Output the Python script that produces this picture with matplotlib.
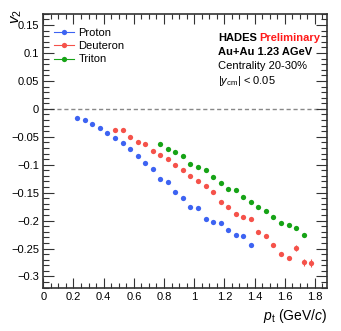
import matplotlib
matplotlib.use("Agg")
import matplotlib.pyplot as plt
from matplotlib.ticker import MultipleLocator
import numpy as np

# v2 vs pt, HADES Au+Au 1.23 AGeV, centrality 20-30%
pt_proton = np.arange(0.225, 1.376, 0.05)
v2_proton = [-0.016, -0.020, -0.027, -0.034, -0.043, -0.052, -0.061, -0.072,
             -0.084, -0.096, -0.108, -0.125, -0.131, -0.148, -0.160, -0.175,
             -0.178, -0.198, -0.202, -0.205, -0.216, -0.225, -0.228, -0.243]

pt_deuteron = np.arange(0.475, 1.776, 0.05)
v2_deuteron = [-0.038, -0.037, -0.051, -0.059, -0.062, -0.075, -0.083, -0.090,
               -0.100, -0.109, -0.120, -0.130, -0.138, -0.149, -0.167, -0.175,
               -0.188, -0.194, -0.197, -0.220, -0.227, -0.243, -0.260, -0.267,
               -0.249, -0.275, -0.276]
err_deuteron = [0.002] * 24 + [0.005, 0.006, 0.007]

pt_triton = np.arange(0.775, 1.726, 0.05)
v2_triton = [-0.062, -0.072, -0.077, -0.085, -0.099, -0.104, -0.110, -0.122,
             -0.132, -0.143, -0.145, -0.157, -0.167, -0.176, -0.183, -0.193,
             -0.204, -0.207, -0.214, -0.226]

c_proton = "#3d63f2"
c_deuteron = "#f5524a"
c_triton = "#16a316"

plt.rcParams["font.family"] = ["Liberation Sans", "DejaVu Sans"]
plt.rcParams["mathtext.fontset"] = "custom"
plt.rcParams["mathtext.rm"] = "Liberation Sans"
plt.rcParams["mathtext.it"] = "Liberation Sans:italic"
plt.rcParams["mathtext.bf"] = "Liberation Sans:bold"

fig = plt.figure(figsize=(3.41, 3.31), dpi=100)
ax = fig.add_axes([0.127, 0.131, 0.832, 0.827])

ax.axhline(0, color="#888888", lw=1, ls=(0, (3, 2)), zorder=1)

ms = 3.8
ax.plot(pt_proton, v2_proton, "o", color=c_proton, ms=ms, mec="none", zorder=3)
ax.errorbar(pt_deuteron, v2_deuteron, yerr=err_deuteron, fmt="o", color=c_deuteron,
            ms=ms, mec="none", elinewidth=0.8, capsize=0, zorder=3)
ax.plot(pt_triton, v2_triton, "o", color=c_triton, ms=ms, mec="none", zorder=3)

ax.set_xlim(0, 1.88)
ax.set_ylim(-0.32, 0.17)

ax.xaxis.set_major_locator(MultipleLocator(0.2))
ax.xaxis.set_minor_locator(MultipleLocator(0.05))
ax.yaxis.set_major_locator(MultipleLocator(0.05))
ax.yaxis.set_minor_locator(MultipleLocator(0.01))
ax.xaxis.set_major_formatter(lambda v, p: f"{v:g}".replace("-", "\u2212"))
ax.yaxis.set_major_formatter(lambda v, p: f"{v:g}".replace("-", "\u2212"))

for s in ax.spines.values():
    s.set_linewidth(1.2)
    s.set_color("#333333")
ax.tick_params(which="both", direction="in", top=True, right=True,
               labelsize=8, color="#333333", width=0.8, pad=3)
ax.tick_params(axis="y", which="major", length=8)
ax.tick_params(axis="y", which="minor", length=4)
ax.tick_params(axis="x", which="major", length=7)
ax.tick_params(axis="x", which="minor", length=3.5)

ax.set_xlabel(r"$p_\mathrm{t}$ (GeV/$c$)", fontsize=10, loc="right", labelpad=4)
ax.set_ylabel(r"$v_2$", fontsize=11, ha="right", va="center")
ax.yaxis.set_label_coords(-0.095, 1.018)

h = [plt.Line2D([], [], color=c, marker="o", ms=ms, mec="none", lw=0.8)
     for c in (c_proton, c_deuteron, c_triton)]
ax.legend(h, ["Proton", "Deuteron", "Triton"], loc="upper left", frameon=False,
          fontsize=8, handlelength=1.8, handletextpad=0.35, labelspacing=0.3,
          bbox_to_anchor=(0.0, 0.99), borderaxespad=0.6)

tx = 0.617
ax.text(tx, 0.9, "HADES", transform=ax.transAxes, fontsize=8, weight="bold")
ax.text(tx + 0.143, 0.9, "Preliminary", transform=ax.transAxes, fontsize=8,
        weight="bold", color="#ff1a1a")
ax.text(tx, 0.849, "Au+Au 1.23 AGeV", transform=ax.transAxes, fontsize=8, weight="bold")
ax.text(tx, 0.797, "Centrality 20-30%", transform=ax.transAxes, fontsize=8)
ax.text(tx, 0.745, r"$|y_\mathrm{cm}|$ < 0.05", transform=ax.transAxes, fontsize=8)

fig.savefig("out.png", dpi=100)
